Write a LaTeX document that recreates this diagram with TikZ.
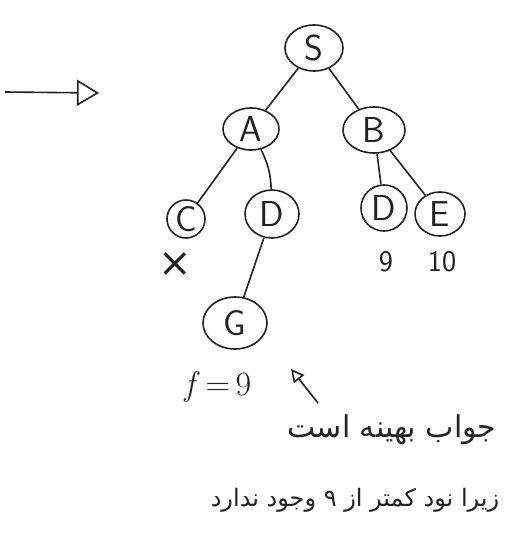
\documentclass[tikz,border=0pt]{standalone}
\usepackage{fontspec}
\usetikzlibrary{arrows.meta,shapes.geometric}
\TeXXeTstate=1
\newfontfamily\arabicfont[Script=Arabic]{DejaVu Sans}
\newfontfamily\symfont{DejaVu Sans}
\definecolor{ink}{HTML}{222222}
\begin{document}
\begin{tikzpicture}[x=1pt,y=-1pt,
  every node/.style={text=ink},
  tnode/.style={draw=ink,line width=1.6pt,ellipse,inner sep=0pt,
    font=\fontsize{36}{36}\sffamily},
  edge/.style={draw=ink,line width=1.6pt},
  lab/.style={font=\fontsize{30}{30}\sffamily},
  fa/.style={font=\arabicfont\fontsize{24}{28}\selectfont}]
\useasboundingbox (0,0) rectangle (509,540);
\fill[white] (0,0) rectangle (509,540);
% tree nodes
\node[tnode,minimum width=58pt,minimum height=46pt] (S) at (314,48) {S};
\node[tnode,minimum width=56pt,minimum height=42pt] (A) at (251,129) {A};
\node[tnode,minimum width=62pt,minimum height=46pt] (B) at (374,130) {B};
\node[tnode,minimum width=38pt,minimum height=38pt] (C) at (186,219) {C};
\node[tnode,minimum width=54pt,minimum height=48pt] (D1) at (272,214) {D};
\node[tnode,minimum width=46pt,minimum height=46pt] (D2) at (384,208) {D};
\node[tnode,minimum width=50pt,minimum height=44pt] (E) at (440,214) {E};
\node[tnode,minimum width=64pt,minimum height=52pt] (G) at (235,323) {G};
% edges
\draw[edge] (S) -- (A);
\draw[edge] (S) -- (B);
\draw[edge] (A) -- (C);
\draw[edge] (A) to[bend left=12] (D1);
\draw[edge] (B) -- (D2);
\draw[edge] (B) -- (E);
\draw[edge] (D1) -- (G);
% labels
\node[font=\symfont\fontsize{40}{40}\selectfont] (X) at (175,265) {×};
\node[lab] (n9) at (386,262) {9};
\node[lab] (n10) at (442,262) {10};
\node[font=\fontsize{34}{34}\selectfont] (f) at (218,387) {\textit{f}\,=\,9};
% arrows
\coordinate (la) at (5,92);
\coordinate (lb) at (99,93);
\draw[edge,-{Triangle[open,length=22pt,width=26pt,line width=1.6pt]}] (la) -- (lb);
\coordinate (pa) at (318,403);
\coordinate (pb) at (291,369);
\draw[edge,-{Triangle[open,length=13pt,width=13pt,line width=1.6pt]}] (pa) -- (pb);
% Persian text
\node[fa,font=\arabicfont\fontsize{30}{34}\selectfont] (t1) at (392,430) {\beginR جواب بهینه است\endR};
\node[fa] (t2) at (355,500) {\beginR زیرا نود کمتر از ۹ وجود ندارد\endR};
\end{tikzpicture}
\end{document}
